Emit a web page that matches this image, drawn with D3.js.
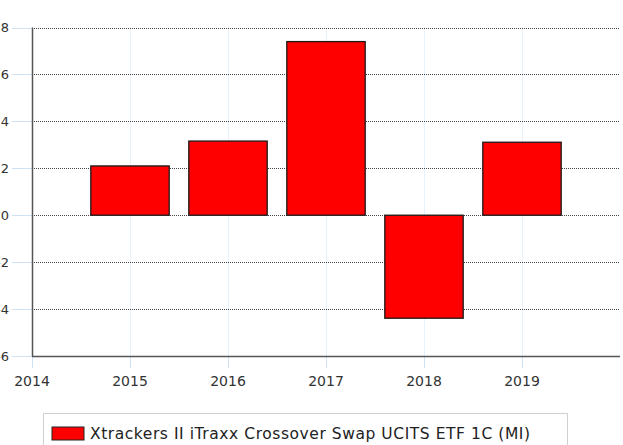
<!DOCTYPE html>
<html>
<head>
<meta charset="utf-8">
<script src="https://cdn.jsdelivr.net/npm/d3@7"></script>
<style>
  body { margin: 0; background: #fff; }
  svg { display: block; font-family: "DejaVu Sans", Verdana, sans-serif; }
</style>
</head>
<body>
<div id="chart"></div>
<script>
// data
const years = [2015, 2016, 2017, 2018, 2019];
const returns = [2.10, 3.16, 7.40, -4.39, 3.11];
const yTicks = [-6, -4, -2, 0, 2, 4, 6, 8];
const xTicks = [2014, 2015, 2016, 2017, 2018, 2019];
const seriesName = "Xtrackers II iTraxx Crossover Swap UCITS ETF 1C (MI)";

const W = 623, H = 445;
const plot = {left: 32, right: 620, top: 27.5, bottom: 356};

const svg = d3.select("#chart")
  .append("svg")
    .attr("width", W)
    .attr("height", H);

const x = d3.scaleLinear().domain([2014, 2020]).range([plot.left, plot.right]);
const y = d3.scaleLinear().domain([-6, 8]).range([plot.bottom, plot.top]);
const barW = x(2014.8) - x(2014);

// vertical light blue gridlines
svg.append("g")
  .selectAll("line")
  .data(xTicks.slice(1))
  .join("line")
    .attr("x1", d => Math.round(x(d)) + 0.5)
    .attr("x2", d => Math.round(x(d)) + 0.5)
    .attr("y1", plot.top)
    .attr("y2", plot.bottom)
    .attr("stroke", "#cfe2f5")
    .attr("stroke-dasharray", "1,1");

// horizontal dotted gridlines
svg.append("g")
  .selectAll("line")
  .data(yTicks.filter(d => d > -6))
  .join("line")
    .attr("x1", plot.left)
    .attr("x2", plot.right)
    .attr("y1", d => Math.round(y(d)) + 0.5)
    .attr("y2", d => Math.round(y(d)) + 0.5)
    .attr("stroke", "#444")
    .attr("stroke-dasharray", "1,1");

// bars
svg.append("g")
  .selectAll("rect")
  .data(years.map((d, i) => [d, returns[i]]))
  .join("rect")
    .attr("x", d => x(d[0]) - barW / 2)
    .attr("y", d => y(Math.max(0, d[1])))
    .attr("width", barW)
    .attr("height", d => Math.abs(y(d[1]) - y(0)))
    .attr("fill", "#ff0000")
    .attr("stroke", "#1a1a1a")
    .attr("stroke-width", 1.3);

// y axis ticks + labels (the left edge clips them, as in the original)
const yAx = svg.append("g");
yAx.selectAll("line")
  .data(yTicks)
  .join("line")
    .attr("x1", 12)
    .attr("x2", plot.left)
    .attr("y1", d => Math.round(y(d)) + 0.5)
    .attr("y2", d => Math.round(y(d)) + 0.5)
    .attr("stroke", "#cfe2f5");
yAx.selectAll("text")
  .data(yTicks)
  .join("text")
    .attr("x", 9)
    .attr("y", d => y(d) + 4.5)
    .attr("text-anchor", "end")
    .attr("font-size", 13)
    .attr("fill", "#333")
    .text(d => d);

// x axis ticks + labels
const xAx = svg.append("g");
xAx.selectAll("line")
  .data(xTicks)
  .join("line")
    .attr("x1", d => Math.round(x(d)) + 0.5)
    .attr("x2", d => Math.round(x(d)) + 0.5)
    .attr("y1", plot.bottom)
    .attr("y2", plot.bottom + 12)
    .attr("stroke", "#cfe2f5");
xAx.selectAll("text")
  .data(xTicks)
  .join("text")
    .attr("x", d => x(d))
    .attr("y", 386)
    .attr("text-anchor", "middle")
    .attr("font-size", 14)
    .attr("fill", "#333")
    .text(d => d);

// axis lines
svg.append("line")
  .attr("x1", plot.left + 0.5).attr("x2", plot.left + 0.5)
  .attr("y1", plot.top).attr("y2", plot.bottom + 0.5)
  .attr("stroke", "#555").attr("stroke-width", 1.5);
svg.append("line")
  .attr("x1", plot.left).attr("x2", plot.right)
  .attr("y1", plot.bottom + 0.5).attr("y2", plot.bottom + 0.5)
  .attr("stroke", "#555").attr("stroke-width", 1.5);

// legend
const leg = svg.append("g");
leg.append("rect")
  .attr("x", 43.5).attr("y", 413.5)
  .attr("width", 524).attr("height", 40)
  .attr("fill", "#fff")
  .attr("stroke", "#d0d0d0");
leg.append("rect")
  .attr("x", 52).attr("y", 427)
  .attr("width", 32).attr("height", 13)
  .attr("fill", "#ff0000")
  .attr("stroke", "#222");
leg.append("text")
  .attr("x", 90).attr("y", 439)
  .attr("font-size", 15.5)
  .attr("textLength", 440)
  .attr("lengthAdjust", "spacing")
  .attr("fill", "#222")
  .text(seriesName);
</script>
</body>
</html>
